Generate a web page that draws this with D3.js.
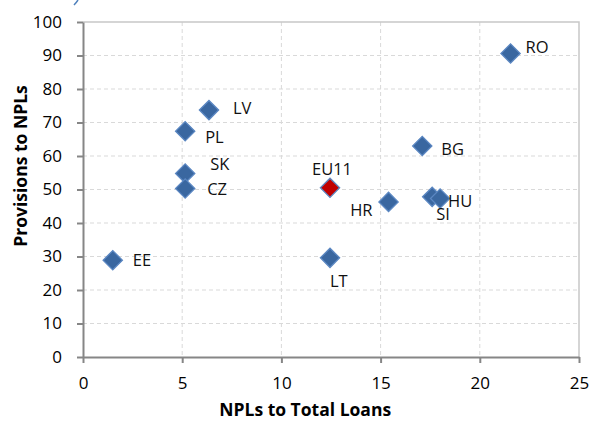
<!DOCTYPE html>
<html>
<head>
<meta charset="utf-8" />
<title>NPLs and provisions</title>
<script src="https://cdn.jsdelivr.net/npm/d3@7"></script>
<style>
  body { margin: 0; background: #fff; }
  text { font-family: "Open Sans", Lato, sans-serif; }
</style>
</head>
<body>
<div id="chart"></div>
<script>
// data
var countries = ["RO", "BG", "LV", "PL", "SK", "CZ", "EE", "EU11", "HR", "SI", "HU", "LT"];
var nplRatio = [21.55, 17.1, 6.35, 5.15, 5.15, 5.15, 1.5, 12.45, 15.4, 17.6, 18.0, 12.45];
var provisions = [90.6, 63.0, 73.7, 67.4, 54.8, 50.3, 28.9, 50.5, 46.3, 47.8, 47.3, 29.6];
var xTicks = [0, 5, 10, 15, 20, 25];
var yTicks = [0, 10, 20, 30, 40, 50, 60, 70, 80, 90, 100];

// where each label sits relative to its marker
var labelPos = {
  RO: [15, 0, "start"], BG: [19, 9, "start"], LV: [24, 4, "start"], PL: [20, 12, "start"],
  SK: [25, -3, "start"], CZ: [22, 7, "start"], EE: [20, 6, "start"], EU11: [2, -13, "middle"],
  HR: [-16, 14, "end"], SI: [4, 23, "start"], HU: [8, 8, "start"], LT: [0, 29, "start"]
};

var W = 590, H = 423;
var margin = { top: 22, right: 11, bottom: 66, left: 83 };
var w = W - margin.left - margin.right,
    h = H - margin.top - margin.bottom;

var svg = d3.select("#chart").append("svg")
    .attr("width", W)
    .attr("height", H);

var g = svg.append("g")
    .attr("transform", "translate(" + margin.left + "," + margin.top + ")");

var x = d3.scaleLinear().domain([0, 25]).range([0, w]);
var y = d3.scaleLinear().domain([0, 100]).range([h, 0]);

// dashed grid
g.append("g").selectAll("line")
    .data(yTicks.filter(function (d) { return d > 0 && d < 100; }))
    .enter().append("line")
    .attr("x1", 0).attr("x2", w)
    .attr("y1", function (d) { return y(d); })
    .attr("y2", function (d) { return y(d); })
    .attr("stroke", "#d9d9d9").attr("stroke-dasharray", "4,3");
g.append("g").selectAll("line")
    .data(xTicks.filter(function (d) { return d > 0 && d < 25; }))
    .enter().append("line")
    .attr("y1", 0).attr("y2", h)
    .attr("x1", function (d) { return x(d); })
    .attr("x2", function (d) { return x(d); })
    .attr("stroke", "#d9d9d9").attr("stroke-dasharray", "4,3");

// top and right frame
g.append("path")
    .attr("d", "M0," + y(100) + "H" + x(25) + "V" + y(0))
    .attr("fill", "none").attr("stroke", "#c8c8c8").attr("stroke-width", 1.5);

var xAxis = g.append("g")
    .attr("transform", "translate(0," + h + ")")
    .call(d3.axisBottom(x).tickValues(xTicks).tickSize(6).tickPadding(14).tickSizeOuter(0));
var yAxis = g.append("g")
    .call(d3.axisLeft(y).tickValues(yTicks).tickSize(6).tickPadding(15).tickSizeOuter(0));

[xAxis, yAxis].forEach(function (a) {
  a.select(".domain").attr("stroke", "#868686").attr("stroke-width", 2);
  a.selectAll(".tick line").attr("stroke", "#868686").attr("stroke-width", 2);
  a.selectAll(".tick text").attr("fill", "#000").style("font-size", "17px")
      .style("font-family", "'Open Sans', Lato, sans-serif");
});

// markers: squares turned 45 degrees
var pts = countries.map(function (c, i) {
  return { name: c, x: nplRatio[i], y: provisions[i] };
});
var diamond = d3.symbol().type(d3.symbolSquare).size(185);

g.append("g").selectAll("path")
    .data(pts)
    .enter().append("path")
    .attr("d", diamond)
    .attr("transform", function (d) {
      return "translate(" + x(d.x) + "," + y(d.y) + ") rotate(45)";
    })
    .attr("fill", function (d) { return d.name == "EU11" ? "#c00000" : "#3a67a0"; })
    .attr("stroke", "#5b87c2")
    .attr("stroke-width", 1.3);

g.append("g").selectAll("text")
    .data(pts)
    .enter().append("text")
    .attr("x", function (d) { return x(d.x) + labelPos[d.name][0]; })
    .attr("y", function (d) { return y(d.y) + labelPos[d.name][1]; })
    .attr("text-anchor", function (d) { return labelPos[d.name][2]; })
    .style("font-size", "16.5px")
    .attr("fill", "#111")
    .text(function (d) { return d.name; });

// axis titles
svg.append("text")
    .attr("x", margin.left + x(11.2))
    .attr("y", 416)
    .attr("text-anchor", "middle")
    .style("font-size", "17.5px").style("font-weight", "bold")
    .text("NPLs to Total Loans");
svg.append("text")
    .attr("transform", "translate(27,166) rotate(-90)")
    .attr("text-anchor", "middle")
    .style("font-size", "17.5px").style("font-weight", "bold")
    .text("Provisions to NPLs");

// small clipped fragment at the top edge
svg.append("path")
    .attr("d", "M74,5 Q76,3 78,0")
    .attr("fill", "none").attr("stroke", "#4f81bd").attr("stroke-width", 1.5);
</script>
</body>
</html>
